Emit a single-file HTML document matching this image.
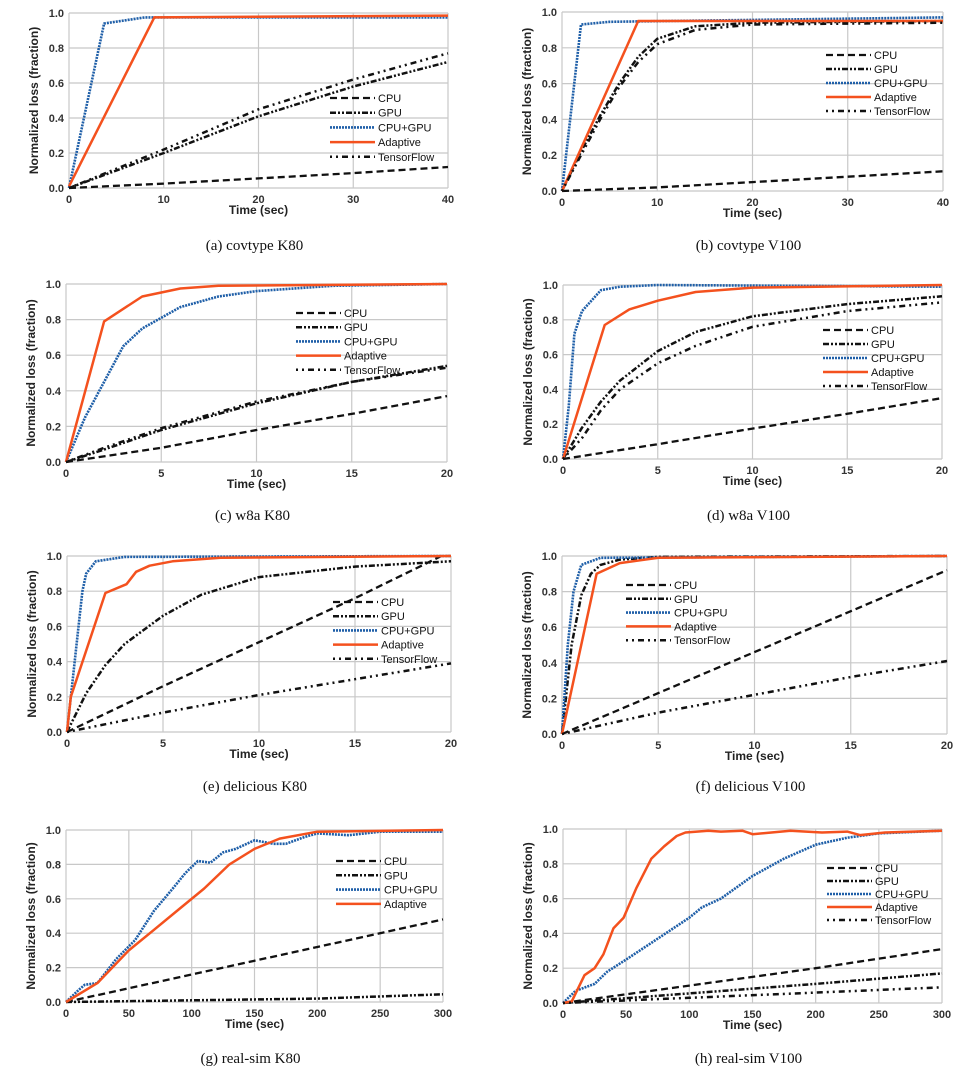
<!DOCTYPE html>
<html><head><meta charset="utf-8"><style>
html,body{margin:0;padding:0;background:#fff;}
svg{display:block;font-family:"Liberation Sans",sans-serif;}
.tick{font-size:11px;font-weight:bold;fill:#333;}
.axt{font-size:12px;font-weight:bold;fill:#222;}
.leg{font-size:11px;fill:#111;font-weight:500;}
.cap{font-family:"Liberation Serif",serif;font-size:15px;fill:#111;}
</style></head><body>
<svg id="root" width="973" height="1071" viewBox="0 0 973 1071"></svg>
<script>
// Panel (a) covtype K80
const aCPU=[[0,0],[10,0.025],[20,0.055],[30,0.085],[40,0.12]];
const aGPU=[[0,0],[10,0.2],[20,0.41],[30,0.58],[40,0.72]];
const aBOTH=[[0,0],[3.7,0.94],[8,0.975],[40,0.975]];
const aADA=[[0,0.01],[9,0.975],[40,0.985]];
const aTF=[[0,0],[10,0.22],[20,0.45],[30,0.62],[40,0.77]];
// Panel (b) covtype V100
const bCPU=[[0,0],[10,0.02],[20,0.05],[30,0.08],[40,0.11]];
const bGPU=[[0,0],[2,0.22],[4,0.42],[6,0.6],[8,0.75],[10,0.85],[14,0.92],[20,0.94],[40,0.95]];
const bBOTH=[[0,0],[2,0.93],[5,0.945],[40,0.97]];
const bADA=[[0,0],[8,0.95],[40,0.95]];
const bTF=[[0,0],[2,0.2],[4,0.4],[6,0.58],[8,0.72],[10,0.82],[14,0.9],[20,0.93],[40,0.94]];
// Panel (c) w8a K80
const cCPU=[[0,0],[5,0.08],[10,0.18],[15,0.27],[20,0.37]];
const cGPU=[[0,0],[2,0.07],[5,0.18],[10,0.33],[15,0.45],[20,0.54]];
const cBOTH=[[0,0],[1,0.25],[2,0.45],[3,0.65],[4,0.75],[6,0.87],[8,0.93],[10,0.96],[14,0.99],[20,1]];
const cADA=[[0,0],[2,0.79],[4,0.93],[6,0.975],[8,0.99],[20,1]];
const cTF=[[0,0],[2,0.08],[5,0.19],[10,0.34],[15,0.45],[20,0.53]];
// Panel (d) w8a V100
const dCPU=[[0,0],[5,0.085],[10,0.175],[15,0.26],[20,0.35]];
const dGPU=[[0,0],[1,0.18],[2,0.33],[3,0.45],[5,0.62],[7,0.73],[10,0.82],[15,0.89],[20,0.935]];
const dBOTH=[[0,0],[0.3,0.3],[0.6,0.72],[1,0.85],[2,0.97],[3,0.99],[5,1],[20,0.99]];
const dADA=[[0,0],[2.2,0.77],[3.5,0.86],[5,0.91],[7,0.96],[10,0.985],[20,1]];
const dTF=[[0,0],[1,0.12],[2,0.28],[3,0.4],[5,0.55],[7,0.65],[10,0.76],[15,0.85],[20,0.9]];
// Panel (e) delicious K80
const eCPU=[[0,0],[5,0.26],[10,0.51],[15,0.76],[19.5,1],[20,1]];
const eGPU=[[0,0],[1,0.22],[2,0.38],[3,0.5],[4,0.58],[5,0.66],[7,0.78],[10,0.88],[15,0.94],[20,0.97]];
const eBOTH=[[0,0],[0.5,0.5],[0.8,0.8],[1,0.9],[1.5,0.97],[3,0.995],[20,1]];
const eADA=[[0,0],[0.2,0.2],[2,0.79],[3.1,0.84],[3.6,0.91],[4.3,0.945],[5.5,0.97],[8,0.99],[20,1]];
const eTF=[[0,0],[5,0.11],[10,0.21],[15,0.3],[20,0.39]];
// Panel (f) delicious V100
const fCPU=[[0,0],[5,0.23],[10,0.46],[15,0.69],[20,0.92]];
const fGPU=[[0,0],[0.5,0.5],[1,0.78],[1.5,0.9],[2,0.95],[3,0.98],[5,0.995],[20,1]];
const fBOTH=[[0,0],[0.3,0.5],[0.6,0.8],[1,0.95],[2,0.99],[20,1]];
const fADA=[[0,0],[1.8,0.9],[3,0.96],[5,0.99],[20,1]];
const fTF=[[0,0],[5,0.12],[10,0.22],[15,0.32],[20,0.41]];
// Panel (g) real-sim K80
const gCPU=[[0,0],[100,0.16],[200,0.32],[300,0.48]];
const gGPU=[[0,0],[100,0.01],[200,0.02],[300,0.045]];
const gBOTH=[[0,0],[10,0.07],[15,0.1],[25,0.11],[40,0.25],[55,0.36],[70,0.53],[85,0.66],[95,0.75],[105,0.82],[115,0.81],[125,0.87],[135,0.89],[150,0.94],[165,0.92],[175,0.92],[190,0.96],[200,0.98],[225,0.97],[250,0.99],[300,0.99]];
const gADA=[[0,0],[25,0.11],[50,0.3],[70,0.42],[90,0.54],[110,0.66],[130,0.8],[150,0.89],[170,0.95],[200,0.99],[300,1]];
// Panel (h) real-sim V100
const hCPU=[[0,0],[100,0.1],[200,0.2],[300,0.31]];
const hGPU=[[0,0],[100,0.055],[200,0.11],[300,0.17]];
const hBOTH=[[0,0],[10,0.07],[25,0.11],[35,0.18],[50,0.25],[75,0.37],[100,0.49],[110,0.55],[125,0.6],[150,0.73],[175,0.83],[200,0.91],[225,0.95],[250,0.975],[300,0.99]];
const hADA=[[0,0],[7,0.01],[17,0.16],[25,0.2],[32,0.28],[40,0.43],[48,0.49],[58,0.66],[70,0.83],[80,0.9],[90,0.96],[97,0.98],[115,0.99],[125,0.985],[142,0.99],[150,0.97],[165,0.98],[180,0.99],[205,0.98],[225,0.985],[235,0.965],[255,0.98],[300,0.99]];
const hTF=[[0,0],[100,0.03],[200,0.06],[300,0.09]];

const yTicks=[0,0.2,0.4,0.6,0.8,1.0];
const xTicks40=[0,10,20,30,40];
const xTicks20=[0,5,10,15,20];
const xTicks300=[0,50,100,150,200,250,300];

const STY={
 CPU:{stroke:'#111',w:2.3,dash:'7,4'},
 GPU:{stroke:'#111',w:2.5,dash:'6,2,2,2,2,2'},
 'CPU+GPU':{stroke:'#1f5fa8',w:2.6,dash:'2,1'},
 Adaptive:{stroke:'#f4511e',w:2.5,dash:''},
 TensorFlow:{stroke:'#111',w:2.5,dash:'2,4,2,4,6,4'}
};
const panels=[
 {id:'a',cap:'(a) covtype K80',L:69,R:448,T:13,B:188,xt:xTicks40,s:{CPU:aCPU,GPU:aGPU,'CPU+GPU':aBOTH,Adaptive:aADA,TensorFlow:aTF},lx:330,ly:98,ls:14.7,capY:250},
 {id:'b',cap:'(b) covtype V100',L:562,R:943,T:12,B:191,xt:xTicks40,s:{CPU:bCPU,GPU:bGPU,'CPU+GPU':bBOTH,Adaptive:bADA,TensorFlow:bTF},lx:826,ly:55,ls:14,capY:250},
 {id:'c',cap:'(c) w8a K80',L:66,R:447,T:284,B:462,xt:xTicks20,s:{CPU:cCPU,GPU:cGPU,'CPU+GPU':cBOTH,Adaptive:cADA,TensorFlow:cTF},lx:296,ly:313,ls:14.2,capY:520},
 {id:'d',cap:'(d) w8a V100',L:563,R:942,T:285,B:459,xt:xTicks20,s:{CPU:dCPU,GPU:dGPU,'CPU+GPU':dBOTH,Adaptive:dADA,TensorFlow:dTF},lx:823,ly:330,ls:14,capY:520},
 {id:'e',cap:'(e) delicious K80',L:67,R:451,T:556,B:732,xt:xTicks20,s:{CPU:eCPU,GPU:eGPU,'CPU+GPU':eBOTH,Adaptive:eADA,TensorFlow:eTF},lx:333,ly:602,ls:14.2,capY:791},
 {id:'f',cap:'(f) delicious V100',L:562,R:947,T:556,B:734,xt:xTicks20,s:{CPU:fCPU,GPU:fGPU,'CPU+GPU':fBOTH,Adaptive:fADA,TensorFlow:fTF},lx:626,ly:585,ls:13.8,capY:791},
 {id:'g',cap:'(g) real-sim K80',L:66,R:443,T:830,B:1002,xt:xTicks300,s:{CPU:gCPU,GPU:gGPU,'CPU+GPU':gBOTH,Adaptive:gADA},lx:336,ly:861,ls:14.3,capY:1063},
 {id:'h',cap:'(h) real-sim V100',L:563,R:942,T:829,B:1003,xt:xTicks300,s:{CPU:hCPU,GPU:hGPU,'CPU+GPU':hBOTH,Adaptive:hADA,TensorFlow:hTF},lx:827,ly:868,ls:13,capY:1063}
];
const NS='http://www.w3.org/2000/svg';
const root=document.getElementById('root');
function mk(tag,attrs,parent){const e=document.createElementNS(NS,tag);for(const k in attrs)e.setAttribute(k,attrs[k]);(parent||root).appendChild(e);return e;}
panels.forEach(p=>{
 const g=mk('g',{});
 
 
 const xmax=p.xt[p.xt.length-1];
 const X=v=>p.L+(v/xmax)*(p.R-p.L);
 const Y=v=>p.B-v*(p.B-p.T);
 yTicks.forEach(t=>{
  const l=mk('line',{x1:p.L,x2:p.R,y1:Y(t),y2:Y(t),stroke:'#c8c8c8','stroke-width':1.2},g);
  
  
  const tx=mk('text',{x:p.L-5,y:Y(t)+4,'text-anchor':'end',class:'tick'},g);
  tx.textContent=t.toFixed(1);
  
  
 });
 p.xt.forEach(t=>{
  const l=mk('line',{x1:X(t),x2:X(t),y1:p.T,y2:p.B,stroke:'#c8c8c8','stroke-width':1.2},g);
  
  
  const tx=mk('text',{x:X(t),y:p.B+15,'text-anchor':'middle',class:'tick'},g);
  tx.textContent=t;
  
  
 });
 const yl=mk('text',{x:0,y:0,transform:'translate('+(p.L-31)+','+((p.T+p.B)/2)+') rotate(-90)','text-anchor':'middle',class:'axt'},g);
 yl.textContent='Normalized loss (fraction)';
 
 
 const xl=mk('text',{x:(p.L+p.R)/2,y:p.B+26,'text-anchor':'middle',class:'axt'},g);
 xl.textContent='Time (sec)';
 
 
 const cp=mk('text',{x:(p.L+p.R)/2-4,y:p.capY,'text-anchor':'middle',class:'cap'},g);
 cp.textContent=p.cap;
 
 
 for(const name in p.s){
  const st=STY[name];
  const pts=p.s[name].map(d=>X(d[0]).toFixed(1)+','+Y(d[1]).toFixed(1)).join(' ');
  const pl=mk('polyline',{points:pts,fill:'none',stroke:st.stroke,'stroke-width':st.w,'stroke-dasharray':st.dash,'stroke-linejoin':'round'},g);
  
  
 }
 let i=0;
 for(const name in STY){
  if(!p.s[name])continue;
  const st=STY[name];const yy=p.ly+i*p.ls;
  const ll=mk('line',{x1:p.lx,x2:p.lx+45,y1:yy,y2:yy,stroke:st.stroke,'stroke-width':st.w,'stroke-dasharray':st.dash},g);
  
  
  const lt=mk('text',{x:p.lx+48,y:yy+4,class:'leg'},g);
  lt.textContent=name;
  
  
  i++;
 }
});
</script>
</body></html>
